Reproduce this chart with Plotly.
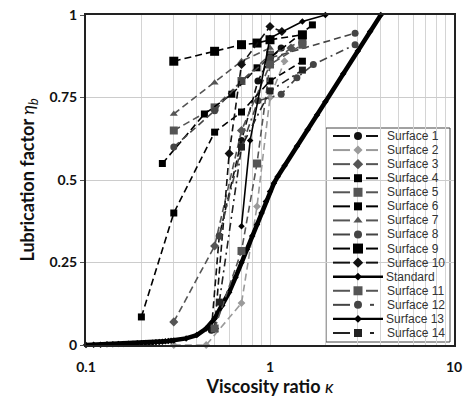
import plotly.graph_objects as go

# Lubrication factor versus viscosity ratio for the tested surfaces
surf_names = ["Surface 1", "Surface 2", "Surface 3", "Surface 4", "Surface 5",
              "Surface 6", "Surface 7", "Surface 8", "Surface 9", "Surface 10"]
surf_names_b = ["Surface 11", "Surface 12", "Surface 13", "Surface 14"]

s1_k = [0.48, 0.53, 0.7, 0.86, 1.0, 1.15]
s1_e = [0.045, 0.33, 0.62, 0.80, 0.87, 0.90]
s2_k = [0.3, 0.45, 0.7, 0.85, 1.0, 1.2]
s2_e = [0.0, 0.0, 0.127, 0.42, 0.75, 0.86]
s3_k = [0.3, 0.5, 0.7, 1.0, 1.3]
s3_e = [0.07, 0.30, 0.65, 0.85, 0.90]
s4_k = [0.2, 0.3, 0.5, 0.7, 1.0, 1.5]
s4_e = [0.085, 0.40, 0.645, 0.706, 0.80, 0.86]
s5_k = [0.3, 0.5, 0.7, 1.0, 1.5]
s5_e = [0.65, 0.72, 0.80, 0.88, 0.92]
s6_k = [0.26, 0.44, 0.62, 0.85, 1.0, 1.7]
s6_e = [0.55, 0.70, 0.76, 0.84, 0.87, 0.97]
s7_k = [0.3, 0.5, 0.7, 1.0]
s7_e = [0.70, 0.795, 0.86, 0.90]
s8_k = [0.3, 0.5, 0.7, 1.0, 2.9]
s8_e = [0.60, 0.71, 0.80, 0.87, 0.945]
s9_k = [0.3, 0.5, 0.7, 0.85, 1.0, 1.5]
s9_e = [0.86, 0.89, 0.91, 0.915, 0.925, 0.94]
s10_k = [0.5, 0.6, 0.7, 1.0, 1.16]
s10_e = [0.05, 0.58, 0.85, 0.965, 0.95]
s11_k = [0.5, 0.7, 0.85, 1.0, 1.5]
s11_e = [0.05, 0.285, 0.55, 0.85, 0.91]
s12_k = [0.53, 0.7, 0.86, 1.15, 1.4, 1.72, 2.9]
s12_e = [0.33, 0.60, 0.74, 0.76, 0.81, 0.85, 0.91]
s13_k = [0.7, 0.78, 1.0, 1.5, 2.0]
s13_e = [0.36, 0.62, 0.93, 0.98, 1.0]
s14_k = [0.53, 0.7, 1.0, 1.5]
s14_e = [0.13, 0.60, 0.77, 0.833]

std_k = [0.10, 0.11, 0.12, 0.13, 0.14, 0.15, 0.16, 0.17, 0.18, 0.19, 0.20,
         0.21, 0.22, 0.23, 0.24, 0.25, 0.26, 0.27, 0.28, 0.29, 0.30,
         0.35, 0.40, 0.45, 0.50, 0.55, 0.60, 0.65, 0.70, 0.75, 0.80, 0.85,
         0.90, 0.95, 1.0, 1.05, 1.1, 1.2, 1.4, 1.6, 1.8, 2.0, 2.5, 3.0, 3.5, 4.0]
std_e = [0.000, 0.001, 0.001, 0.002, 0.002, 0.003, 0.003, 0.004, 0.004, 0.005, 0.005,
         0.006, 0.006, 0.007, 0.008, 0.009, 0.010, 0.011, 0.012, 0.013, 0.014,
         0.020, 0.030, 0.050, 0.080, 0.120, 0.160, 0.205, 0.250, 0.290, 0.330, 0.365,
         0.400, 0.435, 0.465, 0.490, 0.510, 0.543, 0.602, 0.652, 0.697, 0.737, 0.822,
         0.891, 0.950, 1.000]

x_ticks = [0.1, 1, 10]
x_labels = ["0.1", "1", "10"]
y_ticks = [0, 0.25, 0.5, 0.75, 1]
y_labels = ["0", "0.25", "0.5", "0.75", "1"]
x_minor = [0.2, 0.3, 0.4, 0.5, 0.6, 0.7, 0.8, 0.9, 2, 3, 4, 5, 6, 7, 8, 9]

DASH = "7px,4px"
DASHDOT = "8px,4px,2px,4px"

# name, kappa, eta, colour, symbol, marker size, dash, key sample kind
styles = [
    (surf_names[0], s1_k, s1_e, "#111111", "circle", 7, DASH, "dash"),
    (surf_names[1], s2_k, s2_e, "#9a9a9a", "diamond", 6, DASH, "dash"),
    (surf_names[2], s3_k, s3_e, "#555555", "diamond", 7, DASH, "dash"),
    (surf_names[3], s4_k, s4_e, "#000000", "square", 7, DASH, "dash"),
    (surf_names[4], s5_k, s5_e, "#555555", "square", 8, DASH, "dash"),
    (surf_names[5], s6_k, s6_e, "#000000", "square", 7, DASH, "dash"),
    (surf_names[6], s7_k, s7_e, "#555555", "triangle-up", 7, DASH, "dash"),
    (surf_names[7], s8_k, s8_e, "#444444", "circle", 7, DASH, "dash"),
    (surf_names[8], s9_k, s9_e, "#000000", "square", 9, DASH, "dash"),
    (surf_names[9], s10_k, s10_e, "#111111", "diamond", 7, DASH, "dash"),
    ("Standard", std_k, std_e, "#000000", "diamond", 5, "solid", "solid"),
    (surf_names_b[0], s11_k, s11_e, "#555555", "square", 8, DASH, "dash"),
    (surf_names_b[1], s12_k, s12_e, "#444444", "circle", 7, DASHDOT, "dashdot"),
    (surf_names_b[2], s13_k, s13_e, "#000000", "diamond", 5, "solid", "solid"),
    (surf_names_b[3], s14_k, s14_e, "#222222", "square", 7, DASHDOT, "dashdot"),
]

fig = go.Figure()

for name, k, e, color, symbol, size, dash, _ in styles:
    is_std = name == "Standard"
    fig.add_trace(go.Scatter(
        x=k, y=e, name=name, mode="lines+markers",
        line=dict(color=color, width=4.5 if is_std else 1.6, dash=dash),
        marker=dict(symbol=symbol, size=size, color=color),
        cliponaxis=False, showlegend=False,
    ))

# Key drawn on an overlay axis measured in pixels of the plot area
PX_L, PX_R, PX_T, PX_B = 86, 454, 15, 345
key_x0, key_x1, key_top, key_bot = 326, 450, 128, 342
row0, row_step = 136, 14.07
seg_l = (333, 350)
seg_r = (366, 378)
mark_x = 358
text_x = 385

for i, (name, _, _, color, symbol, size, _, kind) in enumerate(styles):
    yc = row0 + i * row_step
    if kind == "solid":
        lx, ly = [333, 383], [yc, yc]
        lw = 2.4
    elif kind == "dashdot":
        lx = [seg_l[0], seg_l[1], None, 370, 374]
        ly = [yc, yc, None, yc, yc]
        lw = 2
    else:
        lx = [seg_l[0], seg_l[1], None, seg_r[0], seg_r[1]]
        ly = [yc, yc, None, yc, yc]
        lw = 2
    fig.add_trace(go.Scatter(
        x=lx, y=ly, mode="lines", xaxis="x2", yaxis="y2",
        line=dict(color=color, width=lw), showlegend=False, hoverinfo="skip",
    ))
    fig.add_trace(go.Scatter(
        x=[mark_x], y=[yc], mode="markers", xaxis="x2", yaxis="y2",
        marker=dict(symbol=symbol, size=size + 1, color=color),
        showlegend=False, hoverinfo="skip",
    ))
    fig.add_annotation(
        x=text_x if kind != "solid" else 384, y=yc, xref="x2", yref="y2",
        text=name, showarrow=False, xanchor="left", yanchor="middle",
        font=dict(family="Liberation Sans, Arial, sans-serif", size=12, color="#333333"),
    )

fig.add_shape(type="rect", xref="x2", yref="y2",
              x0=key_x0, x1=key_x1, y0=key_top, y1=key_bot,
              line=dict(color="#444444", width=1), fillcolor="white", layer="below")

axis_font = dict(family="Lato, Open Sans, sans-serif", size=14, color="#111111")
title_font = dict(family="Lato, Open Sans, sans-serif", size=18, color="#111111")

fig.update_layout(
    width=475, height=398,
    margin=dict(l=86, r=21, t=15, b=53),
    paper_bgcolor="white", plot_bgcolor="white",
    showlegend=False,
    xaxis=dict(
        type="log", range=[-1, 1], automargin=False,
        tickvals=x_ticks, ticktext=[f"<b>{t}</b>" for t in x_labels],
        tickfont=axis_font, ticklabelstandoff=8,
        showgrid=True, gridcolor="#cccccc", gridwidth=1.2,
        minor=dict(tickvals=x_minor, showgrid=True, gridcolor="#d4d4d4", gridwidth=1, ticks=""),
        showline=True, linecolor="#222222", linewidth=2, mirror=True,
        ticks="", zeroline=False,
        title=dict(text="<b>Viscosity ratio </b><i>κ</i>", font=title_font, standoff=6),
    ),
    yaxis=dict(
        range=[0, 1], automargin=False,
        tickvals=y_ticks, ticktext=[f"<b>{t}</b>" for t in y_labels],
        tickfont=axis_font,
        showgrid=True, gridcolor="#cccccc", gridwidth=1.2,
        showline=True, linecolor="#222222", linewidth=2, mirror=True,
        ticks="outside", ticklen=4, tickcolor="#555555", zeroline=False,
        title=dict(text="<b>Lubrication factor </b><i>η<sub>b</sub></i>",
                   font=title_font, standoff=10),
    ),
    xaxis2=dict(overlaying="x", range=[PX_L, PX_R], visible=False, fixedrange=True),
    yaxis2=dict(overlaying="y", range=[PX_B, PX_T], visible=False, fixedrange=True),
)

fig.write_html("out.html")
